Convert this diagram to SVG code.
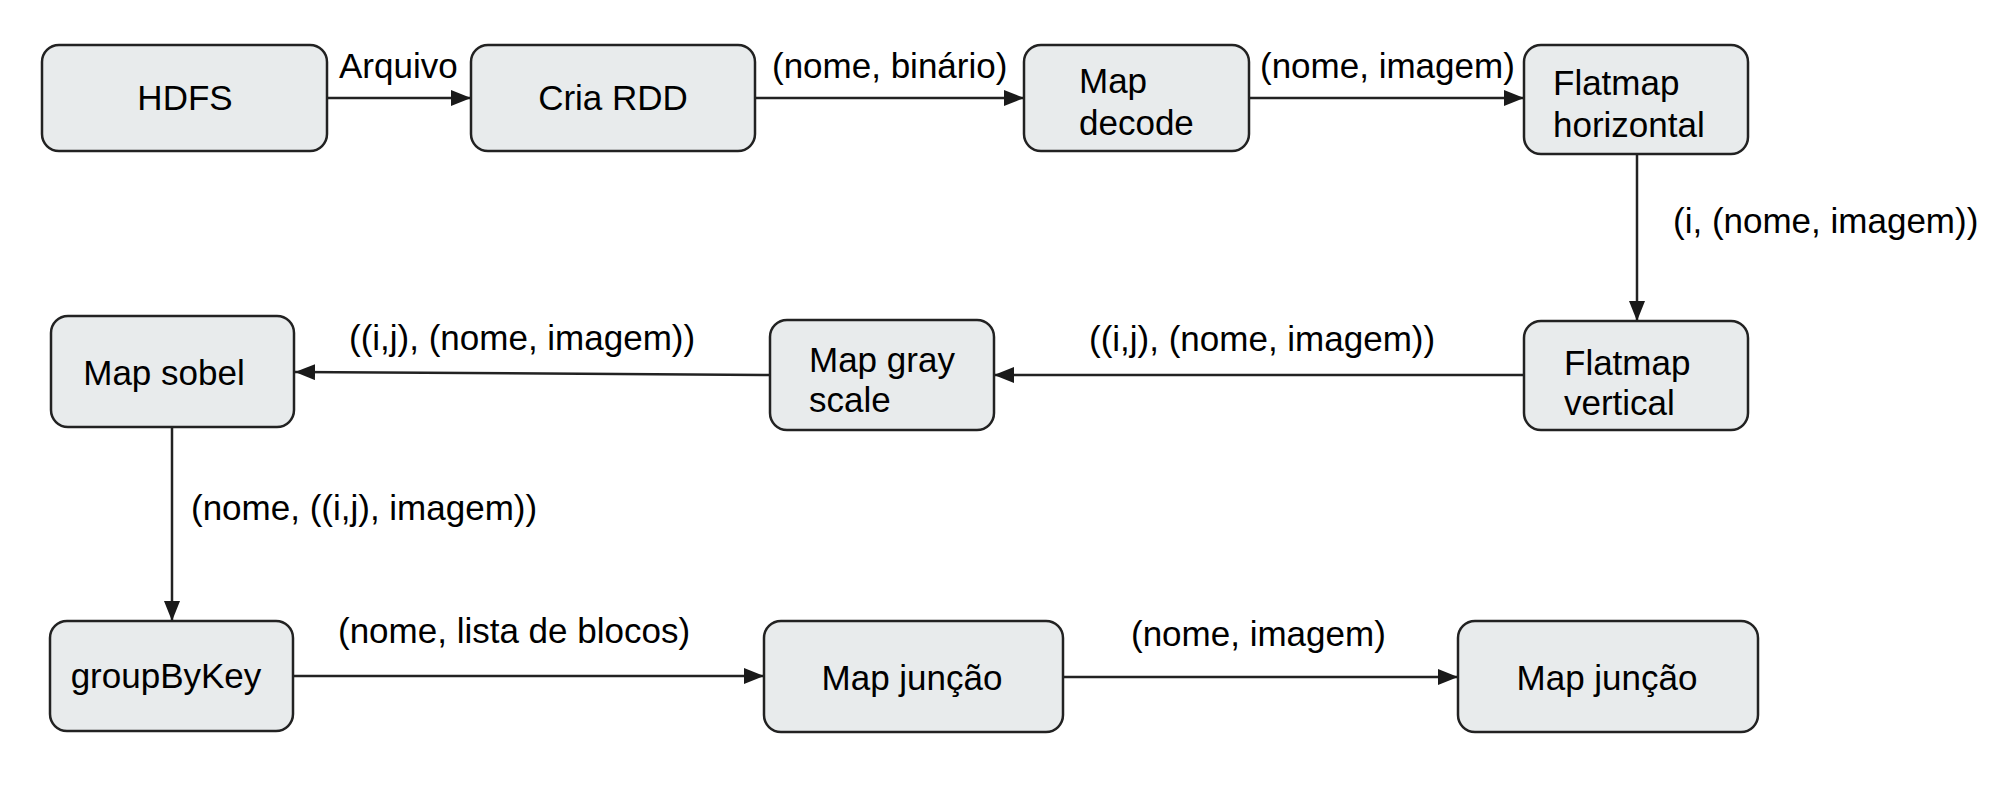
<svg xmlns="http://www.w3.org/2000/svg" width="2012" height="790" viewBox="0 0 2012 790">
<defs>
<marker id="ah" markerWidth="20" markerHeight="16" refX="20" refY="8" orient="auto" markerUnits="userSpaceOnUse">
<path d="M0,0 L20,8 L0,16 z" fill="#1a1a1a"/>
</marker>
<style>
.box{fill:#e8ebec;stroke:#222;stroke-width:2.5}
.t{font-family:"Liberation Sans",Arial,sans-serif;font-size:35px;fill:#000}
.m{text-anchor:middle}
.c{fill:none;stroke:#222;stroke-width:2.5;marker-end:url(#ah)}
</style>
</defs>
<rect width="2012" height="790" fill="#fff"/>
<g id="connectors">
<line class="c" x1="327" y1="98" x2="471" y2="98"/>
<line class="c" x1="755" y1="98" x2="1024" y2="98"/>
<line class="c" x1="1249" y1="98" x2="1524" y2="98"/>
<line class="c" x1="1637" y1="154" x2="1637" y2="321"/>
<line class="c" x1="1524" y1="375" x2="994" y2="375"/>
<line class="c" x1="770" y1="375" x2="295" y2="372"/>
<line class="c" x1="172" y1="427" x2="172" y2="621"/>
<line class="c" x1="293" y1="676" x2="764" y2="676"/>
<line class="c" x1="1063" y1="677" x2="1458" y2="677"/>
<text class="t" x="339" y="78">Arquivo</text>
<text class="t" x="772" y="78">(nome, binário)</text>
<text class="t" x="1260" y="78">(nome, imagem)</text>
<text class="t" x="1673" y="233">(i, (nome, imagem))</text>
<text class="t" x="1089" y="351">((i,j), (nome, imagem))</text>
<text class="t" x="349" y="350">((i,j), (nome, imagem))</text>
<text class="t" x="191" y="520">(nome, ((i,j), imagem))</text>
<text class="t" x="338" y="643">(nome, lista de blocos)</text>
<text class="t" x="1131" y="646">(nome, imagem)</text>
</g>
<g id="hdfs"><rect class="box" x="42" y="45" width="285" height="106" rx="17"/><text class="t m" x="185" y="110">HDFS</text></g>
<g id="cria-rdd"><rect class="box" x="471" y="45" width="284" height="106" rx="17"/><text class="t m" x="613" y="110">Cria RDD</text></g>
<g id="map-decode"><rect class="box" x="1024" y="45" width="225" height="106" rx="17"/><text class="t" x="1079" y="93">Map</text><text class="t" x="1079" y="135">decode</text></g>
<g id="flatmap-horizontal"><rect class="box" x="1524" y="45" width="224" height="109" rx="17"/><text class="t" x="1553" y="95">Flatmap</text><text class="t" x="1553" y="137">horizontal</text></g>
<g id="flatmap-vertical"><rect class="box" x="1524" y="321" width="224" height="109" rx="17"/><text class="t" x="1564" y="375">Flatmap</text><text class="t" x="1564" y="415">vertical</text></g>
<g id="map-gray-scale"><rect class="box" x="770" y="320" width="224" height="110" rx="17"/><text class="t" x="809" y="372">Map gray</text><text class="t" x="809" y="412">scale</text></g>
<g id="map-sobel"><rect class="box" x="51" y="316" width="243" height="111" rx="17"/><text class="t m" x="164" y="385">Map sobel</text></g>
<g id="groupbykey"><rect class="box" x="50" y="621" width="243" height="110" rx="17"/><text class="t m" x="166" y="688">groupByKey</text></g>
<g id="map-juncao-1"><rect class="box" x="764" y="621" width="299" height="111" rx="17"/><text class="t m" x="912" y="690">Map junção</text></g>
<g id="map-juncao-2"><rect class="box" x="1458" y="621" width="300" height="111" rx="17"/><text class="t m" x="1607" y="690">Map junção</text></g>
</svg>
